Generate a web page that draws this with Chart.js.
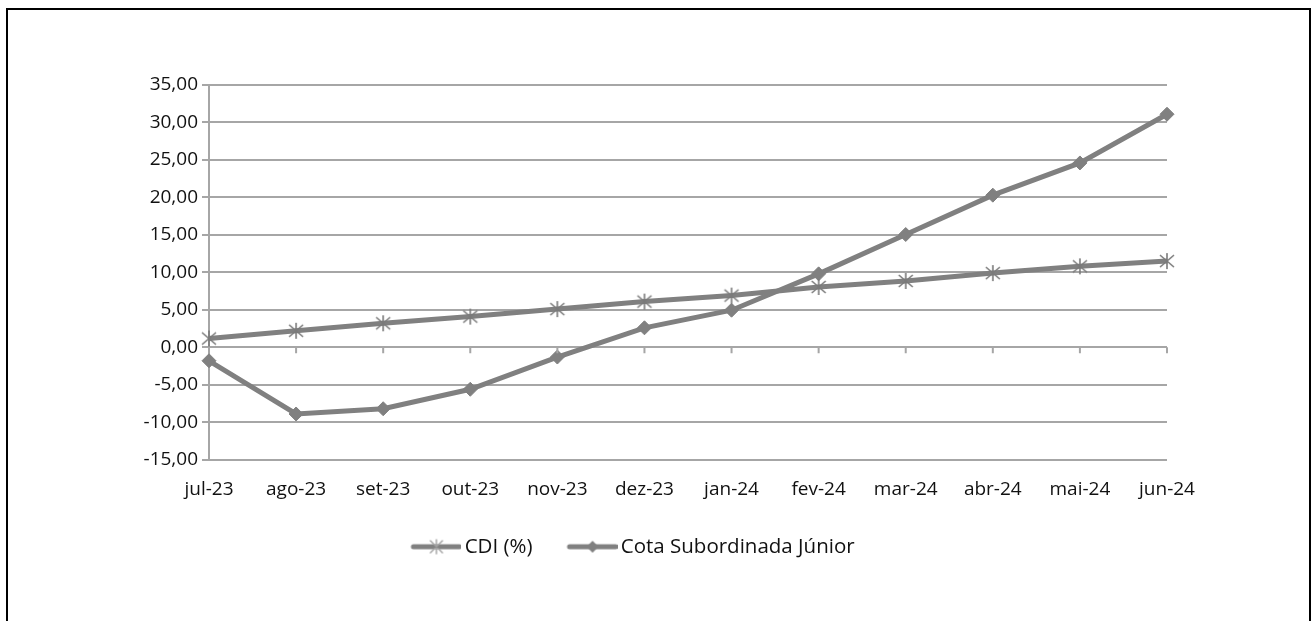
<!DOCTYPE html>
<html>
<head>
<meta charset="utf-8">
<script src="https://cdn.jsdelivr.net/npm/chart.js@4.4.1/dist/chart.umd.min.js"></script>
<style>
    html, body { margin: 0; padding: 0; background: #fff; }
    #frame {
        position: absolute;
        left: 6px;
        top: 8px;
        width: 1301px;
        height: 640px;
        border: 2px solid #000;
    }
    #wrap {
        position: absolute;
        left: 0;
        top: 0;
        width: 1314px;
        height: 621px;
    }
</style>
</head>
<body>
<div id="frame"></div>
<div id="wrap"><canvas id="cotaChart"></canvas></div>
<script>
const months = ['jul-23', 'ago-23', 'set-23', 'out-23', 'nov-23', 'dez-23',
    'jan-24', 'fev-24', 'mar-24', 'abr-24', 'mai-24', 'jun-24'];
const cdiValues = [1.17, 2.2, 3.2, 4.1, 5.1, 6.1, 6.9, 8.05, 8.85, 9.9, 10.8, 11.5];
const cotaValues = [-1.8, -8.9, -8.2, -5.6, -1.3, 2.6, 4.95, 9.8, 15.05, 20.3, 24.6, 31.1];
const yTicks = [35, 30, 25, 20, 15, 10, 5, 0, -5, -10, -15];

const lineGrey = '#808080';
const gridGrey = '#a6a6a6';
const fontFamily = '"Open Sans", "Noto Sans", sans-serif';

// asterisk marker like the spreadsheet one: an x plus a vertical stroke
function starMarker() {
    let c = document.createElement('canvas');
    c.width = 18;
    c.height = 18;
    let g = c.getContext('2d');
    g.strokeStyle = '#7a7a7a';
    g.lineWidth = 1.6;
    g.beginPath();
    g.moveTo(2, 3); g.lineTo(16, 15);
    g.moveTo(16, 3); g.lineTo(2, 15);
    g.moveTo(9, 1); g.lineTo(9, 17);
    g.stroke();
    return c;
}

// legend icon: line with marker, shifted right so it meets the text
function legendIcon(kind) {
    let c = document.createElement('canvas');
    c.width = 56;
    c.height = 18;
    let g = c.getContext('2d');
    g.strokeStyle = lineGrey;
    g.lineWidth = 5;
    g.lineCap = 'round';
    g.beginPath();
    g.moveTo(8, 9);
    g.lineTo(54, 9);
    g.stroke();
    if (kind === 'star') {
        g.lineWidth = 1.4;
        g.strokeStyle = '#a0a0a0';
        g.beginPath();
        g.moveTo(25, 3); g.lineTo(37, 15);
        g.moveTo(37, 3); g.lineTo(25, 15);
        g.moveTo(31, 2); g.lineTo(31, 16);
        g.stroke();
    } else {
        g.fillStyle = lineGrey;
        g.beginPath();
        g.moveTo(31, 3); g.lineTo(37, 9); g.lineTo(31, 15); g.lineTo(25, 9);
        g.closePath();
        g.fill();
    }
    return c;
}

// small tick marks under the zero line, one per category
const zeroTicks = {
    id: 'zeroTicks',
    afterDatasetsDraw(chart) {
        let x = chart.scales.x, y = chart.scales.y;
        let y0 = y.getPixelForValue(0);
        let ctx = chart.ctx;
        ctx.save();
        ctx.strokeStyle = gridGrey;
        ctx.lineWidth = 2;
        ctx.beginPath();
        for (let i = 0; i < months.length; i++) {
            let px = x.getPixelForValue(i);
            ctx.moveTo(px, y0);
            ctx.lineTo(px, y0 + 6);
        }
        ctx.stroke();
        ctx.restore();
    }
};

let ctx = document.getElementById('cotaChart');

new Chart(ctx, {
    type: 'line',
    data: {
        labels: months,
        datasets: [{
            label: 'CDI (%)',
            data: cdiValues,
            borderColor: lineGrey,
            borderWidth: 5,
            pointStyle: starMarker(),
            pointRadius: 8,
            tension: 0
        }, {
            label: 'Cota Subordinada Júnior',
            data: cotaValues,
            borderColor: lineGrey,
            borderWidth: 5,
            pointStyle: 'rectRot',
            pointRadius: 7,
            pointBorderWidth: 1,
            pointBorderColor: lineGrey,
            pointBackgroundColor: lineGrey,
            tension: 0
        }]
    },
    options: {
        responsive: true,
        maintainAspectRatio: false,
        animation: false,
        layout: {
            padding: { left: 100, right: 147, top: 85, bottom: 54 }
        },
        scales: {
            x: {
                offset: false,
                grid: { display: true, drawOnChartArea: false, drawTicks: false },
                border: { display: false },
                afterFit(scale) { scale.height -= 18; },
                ticks: {
                    color: '#111',
                    padding: 18,
                    maxRotation: 0,
                    autoSkip: false,
                    font: { family: fontFamily, size: 19 }
                }
            },
            y: {
                min: -15,
                max: 35,
                afterFit(scale) { scale.width = 109; },
                afterBuildTicks(scale) {
                    scale.ticks = yTicks.map(v => ({ value: v }));
                },
                grid: { color: gridGrey, lineWidth: 2, tickLength: 7 },
                border: { color: gridGrey, width: 2 },
                ticks: {
                    color: '#111',
                    padding: 4,
                    font: { family: fontFamily, size: 19 },
                    callback: v => v.toFixed(2).replace('.', ',')
                }
            }
        },
        plugins: {
            tooltip: { enabled: false },
            legend: {
                position: 'bottom',
                labels: {
                    color: '#111',
                    usePointStyle: true,
                    pointStyleWidth: 42,
                    padding: 36,
                    font: { family: fontFamily, size: 20.5 },
                    generateLabels(chart) {
                        let icons = [legendIcon('star'), legendIcon('diamond')];
                        return chart.data.datasets.map((ds, i) => ({
                            text: ds.label,
                            pointStyle: icons[i],
                            fillStyle: lineGrey,
                            strokeStyle: lineGrey,
                            lineWidth: 0,
                            fontColor: '#111',
                            datasetIndex: i,
                            hidden: false
                        }));
                    }
                }
            }
        }
    },
    plugins: [zeroTicks]
});
</script>
</body>
</html>
